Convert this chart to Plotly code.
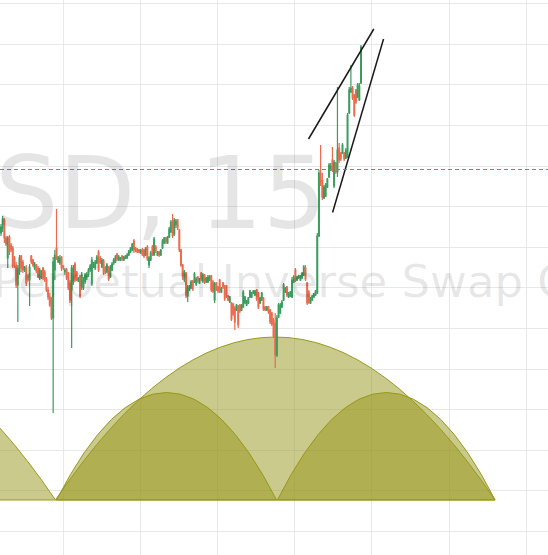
import plotly.graph_objects as go

# ---------------- data (prices) ----------------
opens = [9767,9772,9780,9762,9742,9763,9755,9752,9742,9735,9715,9728,9744,9738,9730,9732,9724,9720,9744,9740,
         9732,9735,9732,9722,9723,9732,9728,9720,9710,9703,9700,9682,9730,9752,9738,9737,9743,9734,9728,9730,
         9727,9717,9710,9718,9736,9728,9719,9724,9713,9712,9718,9723,9725,9730,9716,9733,9732,9737,9748,9742,
         9733,9739,9732,9728,9732,9723,9730,9737,9738,9746,9740,9740,9744,9740,9742,9742,9745,9748,9750,9759,
         9752,9751,9750,9747,9750,9750,9745,9753,9735,9740,9753,9745,9753,9745,9748,9745,9752,9757,9762,9757,
         9763,9768,9778,9766,9775,9780,9770,9750,9735,9720,9727,9704,9710,9712,9719,9718,9716,9723,9717,9727,
         9719,9725,9718,9718,9720,9724,9718,9700,9717,9713,9720,9708,9717,9714,9714,9704,9698,9697,9696,9692,
         9690,9694,9695,9690,9693,9697,9695,9697,9703,9703,9707,9705,9710,9707,9697,9700,9702,9693,9690,9693,
         9690,9687,9680,9677,9645,9683,9687,9693,9700,9708,9713,9703,9704,9703,9718,9730,9720,9722,9720,9722,
         9725,9732,9717,9708,9697,9700,9703,9705,9707,9764,9827,9820,9802,9804,9813,9823,9830,9840,9814,9837,
         9828,9852,9847,9847,9847,9842,9843,9887,9908,9912,9905,9910,9903,9900,9917]
highs = [9776,9784,9782,9764,9764,9765,9757,9754,9744,9738,9735,9745,9745,9740,9734,9735,9726,9736,9745,9741,
         9738,9736,9734,9732,9730,9733,9730,9723,9713,9707,9703,9743,9750,9791,9744,9745,9744,9735,9732,9732,
         9728,9720,9735,9735,9738,9729,9723,9725,9728,9723,9727,9728,9732,9736,9743,9738,9740,9745,9750,9744,
         9742,9741,9734,9737,9734,9735,9738,9742,9745,9747,9745,9743,9745,9744,9745,9747,9750,9753,9757,9761,
         9753,9752,9751,9751,9752,9751,9753,9755,9744,9749,9755,9763,9755,9749,9749,9751,9761,9763,9763,9764,
         9773,9780,9786,9782,9781,9781,9771,9751,9736,9730,9728,9715,9715,9720,9720,9728,9723,9724,9722,9728,
         9727,9726,9723,9725,9725,9725,9720,9718,9718,9714,9721,9713,9718,9715,9715,9705,9704,9698,9697,9694,
         9696,9695,9696,9696,9710,9704,9700,9703,9710,9708,9710,9710,9711,9708,9703,9708,9703,9694,9694,9694,
         9691,9688,9682,9687,9685,9697,9697,9700,9717,9713,9714,9708,9709,9723,9725,9732,9724,9725,9725,9728,
         9735,9735,9718,9710,9703,9705,9707,9710,9767,9830,9855,9827,9815,9817,9822,9837,9837,9853,9840,9838,
         9913,9857,9848,9857,9848,9852,9887,9913,9935,9914,9906,9911,9917,9917,9955]
lows = [9764,9768,9757,9754,9732,9745,9748,9732,9732,9712,9678,9725,9728,9727,9728,9714,9718,9694,9736,9733,
        9730,9727,9722,9720,9721,9720,9718,9708,9700,9693,9680,9587,9720,9740,9737,9735,9729,9730,9725,9720,
        9710,9697,9652,9715,9718,9719,9718,9702,9710,9710,9716,9720,9723,9728,9714,9732,9730,9736,9728,9736,
        9732,9725,9726,9727,9719,9722,9729,9735,9737,9739,9739,9739,9739,9739,9741,9741,9744,9747,9749,9747,
        9748,9747,9747,9746,9744,9742,9744,9739,9732,9739,9744,9744,9747,9744,9743,9744,9751,9756,9756,9756,
        9762,9767,9762,9764,9772,9770,9748,9733,9720,9718,9702,9698,9709,9711,9709,9717,9714,9717,9716,9719,
        9717,9716,9717,9717,9719,9708,9707,9697,9709,9707,9707,9707,9711,9699,9702,9699,9697,9679,9684,9670,
        9689,9672,9687,9689,9692,9696,9694,9696,9702,9702,9706,9704,9699,9691,9696,9699,9689,9689,9689,9686,
        9676,9674,9662,9632,9643,9682,9686,9692,9699,9707,9703,9702,9703,9702,9717,9718,9719,9721,9719,9721,
        9724,9719,9695,9696,9696,9699,9702,9704,9706,9763,9814,9800,9801,9803,9812,9822,9829,9828,9812,9826,
        9823,9837,9839,9846,9839,9841,9842,9886,9907,9900,9883,9896,9902,9899,9916]
closes = [9773,9781,9762,9756,9762,9748,9750,9734,9735,9715,9732,9742,9732,9730,9733,9717,9720,9733,9738,9735,
          9736,9729,9723,9730,9728,9722,9720,9710,9703,9695,9682,9738,9745,9742,9743,9742,9732,9732,9730,9722,
          9712,9700,9732,9732,9720,9720,9722,9704,9725,9720,9725,9726,9730,9734,9740,9737,9738,9743,9730,9738,
          9740,9727,9728,9735,9721,9733,9736,9740,9743,9741,9743,9742,9741,9743,9744,9745,9749,9752,9756,9750,
          9749,9748,9748,9750,9746,9744,9752,9741,9742,9747,9746,9761,9749,9748,9745,9750,9759,9762,9758,9763,
          9771,9778,9764,9780,9779,9772,9750,9735,9723,9728,9704,9713,9713,9718,9711,9726,9721,9719,9721,9721,
          9725,9718,9722,9723,9724,9710,9709,9716,9711,9709,9709,9712,9713,9701,9704,9700,9703,9681,9686,9678,
          9695,9675,9689,9695,9708,9703,9699,9702,9709,9707,9709,9709,9701,9693,9702,9707,9691,9690,9693,9688,
          9678,9676,9664,9645,9682,9695,9695,9698,9715,9712,9705,9707,9708,9720,9723,9720,9723,9724,9724,9727,
          9733,9721,9697,9698,9702,9704,9706,9709,9764,9827,9817,9803,9813,9815,9821,9835,9834,9830,9838,9828,
          9850,9840,9841,9855,9841,9850,9885,9910,9912,9902,9885,9898,9915,9914,9953]
candle_index = list(range(len(opens)))

# drawings on the chart (candle index, price)
arc_starts = [-229.2, 32.4, 33.0, 164.3]
arc_ends = [32.4, 293.7, 163.8, 293.7]
arc_peaks = [9663, 9663, 9607.5, 9607.5]
arc_base = 9500
trend_x0 = [182.8, 197.1]
trend_y0 = [9861, 9787.5]
trend_x1 = [221.6, 227.4]
trend_y1 = [9971, 9961]
level_price = 9830.5
watermark_big = "SD, 15"
watermark_small = "Perpetual Inverse Swap C"

# ---------------- layout geometry ----------------
W, H = 548, 555
px_per_candle = 360 / (len(opens) - 1)
x_first_px = 1.0
x_range = [(0 - x_first_px) / px_per_candle, (W - x_first_px) / px_per_candle]
y_range = [10000 - H, 10000]

GREEN = "#3a9d5d"
RED = "#ec6a4e"

fig = go.Figure()
fig.add_trace(go.Candlestick(
    x=candle_index, open=opens, high=highs, low=lows, close=closes,
    increasing=dict(line=dict(color=GREEN, width=1.2), fillcolor=GREEN),
    decreasing=dict(line=dict(color=RED, width=1.2), fillcolor=RED),
    whiskerwidth=0, hoverinfo="skip", showlegend=False,
))

shapes = []
for s, e, pk in zip(arc_starts, arc_ends, arc_peaks):
    cx = (s + e) / 2
    cy = 2 * pk - arc_base
    shapes.append(dict(
        type="path", xref="x", yref="y", layer="between",
        path=f"M {s},{arc_base} Q {cx},{cy} {e},{arc_base} Z",
        fillcolor="rgba(150,150,25,0.5)",
        line=dict(color="rgba(150,150,20,0.95)", width=1),
    ))
for x0, y0, x1, y1 in zip(trend_x0, trend_y0, trend_x1, trend_y1):
    shapes.append(dict(type="line", xref="x", yref="y", x0=x0, y0=y0, x1=x1, y1=y1,
                       line=dict(color="#1a1a1a", width=1.5)))
shapes.append(dict(type="line", xref="paper", yref="y", x0=0, x1=1,
                   y0=level_price, y1=level_price,
                   line=dict(color="#e0603e", width=1, dash="4px,3px")))

annotations = [
    dict(text=watermark_big, xref="paper", yref="paper",
         x=328 / W, y=1 - 193 / H, xanchor="right", yanchor="middle",
         showarrow=False, font=dict(family="DejaVu Sans", size=100, color="rgba(0,0,0,0.10)")),
    dict(text=watermark_small, xref="paper", yref="paper",
         x=-9 / W, y=1 - 281 / H, xanchor="left", yanchor="middle",
         showarrow=False, font=dict(family="DejaVu Sans", size=45, color="rgba(0,0,0,0.10)")),
]

fig.update_layout(
    width=W, height=H, margin=dict(l=0, r=0, t=0, b=0),
    paper_bgcolor="white", plot_bgcolor="white",
    shapes=shapes, annotations=annotations, showlegend=False,
    xaxis=dict(range=x_range, showticklabels=False, showline=False, zeroline=False,
               showgrid=True, gridcolor="#e8e8e8", gridwidth=1,
               tick0=(63 - x_first_px) / px_per_candle, dtick=77.2 / px_per_candle,
               rangeslider=dict(visible=False), fixedrange=True),
    yaxis=dict(range=y_range, showticklabels=False, showline=False, zeroline=False,
               showgrid=True, gridcolor="#e8e8e8", gridwidth=1,
               tick0=10000 - 3.6, dtick=40.6, fixedrange=True),
)

fig.write_html("out.html", config={"displayModeBar": False},
               post_script="document.body.style.margin='0';document.body.style.overflow='hidden';")
